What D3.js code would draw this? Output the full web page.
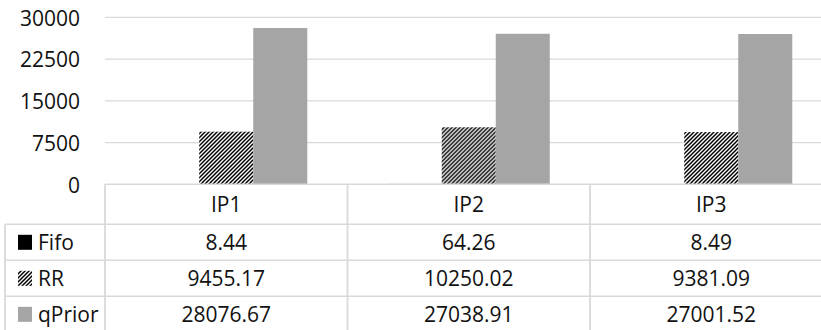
<!DOCTYPE html>
<html>
<head>
<meta charset="utf-8">
<script src="https://cdn.jsdelivr.net/npm/d3@7"></script>
<style>
  html, body { margin: 0; padding: 0; background: #fff; }
  svg { display: block; }
  text { font-family: "Open Sans", "Noto Sans", sans-serif; fill: #111; }
</style>
</head>
<body>
<svg id="chart" width="821" height="330"></svg>
<script>
// Scheduler results per input pattern
const categories = ["IP1", "IP2", "IP3"];
const seriesNames = ["Fifo", "RR", "qPrior"];
const fifoValues = [8.44, 64.26, 8.49];
const rrValues = [9455.17, 10250.02, 9381.09];
const qPriorValues = [28076.67, 27038.91, 27001.52];
const valueLabels = [
  ["8.44", "64.26", "8.49"],
  ["9455.17", "10250.02", "9381.09"],
  ["28076.67", "27038.91", "27001.52"]
];
const yTicks = [0, 7500, 15000, 22500, 30000];

const seriesValues = [fifoValues, rrValues, qPriorValues];

const svg = d3.select("#chart");
const gridColor = "#d9d9d9";

// Hatched fill for the RR series
const defs = svg.append("defs");
const hatch = defs.append("pattern")
  .attr("id", "hatch")
  .attr("patternUnits", "userSpaceOnUse")
  .attr("width", 4).attr("height", 4);
hatch.append("rect").attr("width", 4).attr("height", 4).attr("fill", "#fff");
hatch.append("path")
  .attr("d", "M-1,1 l2,-2 M0,4 l4,-4 M3,5 l2,-2")
  .attr("stroke", "#000").attr("stroke-width", 1.5);

const fills = { "Fifo": "#000", "RR": "url(#hatch)", "qPrior": "#a5a5a5" };

const plotLeft = 105, plotRight = 832.5;
const plotTop = 17.3, plotBottom = 184.3;

const x0 = d3.scaleBand().domain(categories).range([plotLeft, plotRight]).padding(0);
const x1 = d3.scaleBand().domain(seriesNames).range([0, x0.bandwidth()])
  .paddingInner(0).paddingOuter(0.745);
const y = d3.scaleLinear().domain([0, 30000]).range([plotBottom, plotTop]);

// Horizontal gridlines
svg.append("g").selectAll("line").data(yTicks.filter(t => t > 0)).join("line")
  .attr("x1", plotLeft).attr("x2", 821)
  .attr("y1", d => y(d)).attr("y2", d => y(d))
  .attr("stroke", gridColor).attr("stroke-width", 1.3);

// Y axis labels
const yAxis = d3.axisLeft(y).tickValues(yTicks).tickSize(0).tickPadding(0)
  .tickFormat(d3.format("d"));
const yg = svg.append("g").attr("transform", "translate(80,1)").call(yAxis);
yg.select(".domain").remove();
yg.selectAll("text")
  .attr("font-size", 21)
  .attr("font-family", "'Open Sans', sans-serif")
  .attr("fill", "#111");

// Bars
const groups = svg.append("g").selectAll("g").data(categories).join("g")
  .attr("transform", d => `translate(${x0(d)},0)`);
groups.selectAll("rect")
  .data((c, ci) => seriesNames.map((s, si) => ({ s, v: seriesValues[si][ci] })))
  .join("rect")
  .attr("x", d => x1(d.s))
  .attr("width", x1.bandwidth())
  .attr("y", d => y(d.v))
  .attr("height", d => y(0) - y(d.v))
  .attr("fill", d => fills[d.s]);

// Data table below the plot
const tableLeft = 5;
const rowLines = [224.3, 260.3, 296.3];
const rowCenters = [242.3, 278.3, 314.3];
const headerCenter = 204.3;
const tg = svg.append("g");

tg.append("line")
  .attr("x1", plotLeft).attr("x2", 821)
  .attr("y1", plotBottom).attr("y2", plotBottom)
  .attr("stroke", gridColor).attr("stroke-width", 1.5);
tg.selectAll("line.row").data(rowLines).join("line").attr("class", "row")
  .attr("x1", tableLeft).attr("x2", 821)
  .attr("y1", d => d).attr("y2", d => d)
  .attr("stroke", gridColor).attr("stroke-width", 1.5);

const colEdges = categories.map(c => x0(c)).concat([plotRight]);
tg.selectAll("line.col").data(colEdges).join("line").attr("class", "col")
  .attr("x1", d => d).attr("x2", d => d)
  .attr("y1", plotBottom).attr("y2", 330)
  .attr("stroke", gridColor).attr("stroke-width", 1.8);
tg.append("line")
  .attr("x1", tableLeft).attr("x2", tableLeft)
  .attr("y1", rowLines[0]).attr("y2", 330)
  .attr("stroke", gridColor).attr("stroke-width", 1.8);

// Category headers
tg.selectAll("text.cat").data(categories).join("text").attr("class", "cat")
  .attr("x", d => x0(d) + x0.bandwidth() / 2)
  .attr("y", headerCenter)
  .attr("text-anchor", "middle").attr("dominant-baseline", "central")
  .attr("font-size", 21)
  .text(d => d);

// Legend keys and series names
seriesNames.forEach((s, si) => {
  tg.append("rect")
    .attr("x", 18).attr("y", rowCenters[si] - 7.5)
    .attr("width", 14).attr("height", 15)
    .attr("fill", fills[s]);
  tg.append("text")
    .attr("x", 38).attr("y", rowCenters[si])
    .attr("dominant-baseline", "central")
    .attr("font-size", 21)
    .text(s);
  tg.selectAll(null).data(categories).join("text")
    .attr("x", d => x0(d) + x0.bandwidth() / 2)
    .attr("y", rowCenters[si])
    .attr("text-anchor", "middle").attr("dominant-baseline", "central")
    .attr("font-size", 21)
    .text((d, ci) => valueLabels[si][ci]);
});
</script>
</body>
</html>
